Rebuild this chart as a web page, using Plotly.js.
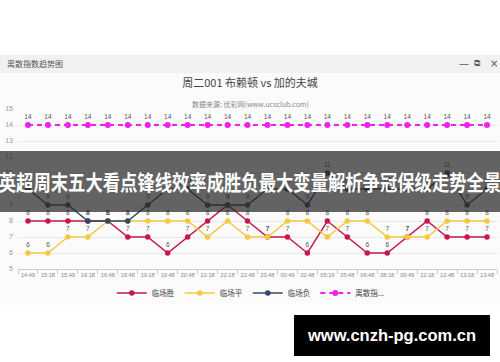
<!DOCTYPE html>
<html><head><meta charset="utf-8">
<script src="https://cdn.plot.ly/plotly-3.0.1.min.js"></script>
<style>
html,body{margin:0;padding:0;background:#fff;width:500px;height:362px;overflow:hidden;font-family:"Noto Sans CJK SC","Liberation Sans",sans-serif;}
#card{position:absolute;left:0;top:55px;width:500px;height:250px;background:#fbfbfb;}
#head{position:absolute;left:0;top:55px;width:500px;height:18px;background:#f1f1f1;}
#head .t{position:absolute;left:7px;top:3px;font-size:8px;color:#555;line-height:12px;}
#head .ic{position:absolute;top:2px;font-size:10px;color:#555;line-height:13px;font-family:"DejaVu Sans",sans-serif;}
#chart{position:absolute;left:0;top:0;width:500px;height:362px;}
#band{position:absolute;left:0;top:151px;width:500px;height:61px;background:rgba(40,40,40,0.72);}
#bandtxt{position:absolute;left:250px;top:151px;height:61px;line-height:61px;color:#fff;font-weight:700;font-size:21px;white-space:nowrap;font-family:"Noto Sans CJK SC",sans-serif;transform:translateX(-50%) scaleX(0.825);transform-origin:50% 50%;}
#wm{position:absolute;left:294px;top:315px;width:196px;height:41px;background:#000;color:#fff;font-weight:700;font-size:16.5px;line-height:41px;text-align:center;font-family:"Liberation Sans",Arial,sans-serif;}
</style></head>
<body>
<div id="card"></div>
<div id="head"><span class="t">离散指数趋势图</span><span class="ic" style="left:459px">—</span><span class="ic" style="left:474px;font-size:9px">⧉</span><span class="ic" style="left:490px">×</span></div>
<div id="chart"></div>
<div id="band"></div>
<div id="bandtxt">英超周末五大看点锋线效率成胜负最大变量解析争冠保级走势全景</div>
<div id="wm">www.cnzh-pg.com.cn</div>
<script>
var times = ["14:49","15:18","15:49","16:18","16:48","18:48","19:18","19:48","20:48","21:18","22:18","22:48","23:48","00:49","02:48","05:19","05:48","06:48","08:18","09:49","12:18","12:48","13:18","13:48"];
var seriesNames = ["临场胜","临场平","临场负","离散指..."];
var winVals  = [8,8,8,8,8,7,7,6,7,8,9,8,7,7,6,8,7,6,6,7,8,7,7,7];
var drawVals = [6,6,7,7,8,8,8,8,8,7,8,7,7,8,8,7,8,8,7,7,7,8,8,8];
var loseVals = [10,9,9,8,8,8,9,10,10,9,9,9,10,10,9,11,10,10,10,10,10,11,9,10];
var dispVals = [14,14,14,14,14,14,14,14,14,14,14,14,14,14,14,14,14,14,14,14,14,14,14,14];
var colors = ["#c8174a","#f5c843","#2f4a68","#ee22ee"];

function mk(vals, i, dash, w, ms){
  return {
    x: times, y: vals, name: seriesNames[i], type: "scatter",
    mode: "lines+markers+text",
    text: vals.map(String), textposition: "top center",
    textfont: {size: 6.5, color: "#555", family: "Liberation Sans, Arial, sans-serif"},
    line: {color: colors[i], width: w, dash: dash},
    marker: {color: colors[i], size: ms},
    cliponaxis: false, hoverinfo: "skip"
  };
}
var data = [
  mk(winVals, 0, "solid", 1.5, 5.5),
  mk(drawVals, 1, "solid", 1.5, 5.5),
  mk(loseVals, 2, "solid", 1.5, 5.5),
  mk(dispVals, 3, "5px,4px", 2, 6)
];
var layout = {
  width: 500, height: 362,
  margin: {l: 18, r: 3, t: 109, b: 93, pad: 0},
  paper_bgcolor: "rgba(0,0,0,0)", plot_bgcolor: "rgba(0,0,0,0)",
  showlegend: true,
  title: {text: "周二001 布赖顿 vs 加的夫城", x: 0.5, xref: "container", y: 0.771, yref: "container", yanchor: "middle",
          font: {size: 11, color: "#444", family: "Noto Sans CJK SC, sans-serif"}},
  font: {family: "Noto Sans CJK SC, Liberation Sans, sans-serif"},
  xaxis: {type: "category", range: [-0.5, 23.5], showgrid: false, zeroline: false,
          showline: true, linecolor: "#ccc", linewidth: 1, tickangle: 0,
          ticks: "outside", ticklen: 4, tickcolor: "#ccc", tickson: "boundaries",
          tickfont: {size: 5.6, color: "#888", family: "Liberation Sans, Arial, sans-serif"}, fixedrange: true},
  yaxis: {range: [5, 15], dtick: 1, showgrid: true, gridcolor: "#e8e8e8", gridwidth: 1, zeroline: false,
          showline: false, ticks: "", ticklabelstandoff: 4,
          tickfont: {size: 7, color: "#999", family: "Liberation Sans, Arial, sans-serif"}, fixedrange: true},
  legend: {orientation: "h", x: 0.486, xanchor: "center", y: -0.15, yanchor: "middle",
           font: {size: 7.5, color: "#444", family: "Noto Sans CJK SC, sans-serif"},
           itemwidth: 30, bgcolor: "rgba(0,0,0,0)", traceorder: "normal"},
  annotations: [{text: "数据来源: 优彩网(www.ucsclub.com)", xref: "paper", yref: "paper", x: 0.486, y: 1.075,
                 showarrow: false, font: {size: 7, color: "#888", family: "Noto Sans CJK SC, sans-serif"}}]
};
Plotly.newPlot("chart", data, layout, {displayModeBar: false, staticPlot: true});
</script>
</body></html>
